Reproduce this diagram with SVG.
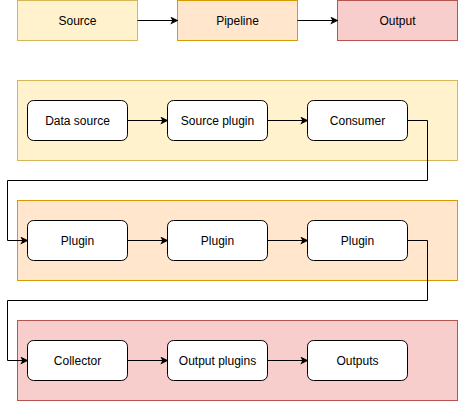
<svg xmlns="http://www.w3.org/2000/svg" width="458" height="401" viewBox="0 0 458 401">
<style>
.y{fill:#fff2cc;stroke:#d6b656}
.o{fill:#ffe6cc;stroke:#d79b00}
.r{fill:#f8cecc;stroke:#b85450}
.n{fill:#ffffff;stroke:#000000}
text{font-family:"Liberation Sans",Arial,sans-serif;font-size:12px;fill:#000000;text-anchor:middle;dominant-baseline:central}
.e{fill:none;stroke:#000000;stroke-width:1}
</style>
<defs>
<marker id="a" viewBox="0 0 10 10" refX="9" refY="5" markerWidth="8" markerHeight="8" markerUnits="userSpaceOnUse" orient="auto">
<path d="M0,0 L10,5 L0,10 L2.5,5 Z" fill="#000"/>
</marker>
</defs>
<g id="legend-source"><rect class="y" x="17.5" y="0.5" width="120" height="40"/><text x="77.5" y="20.5">Source</text></g>
<g id="legend-pipeline"><rect class="o" x="177.5" y="0.5" width="120" height="40"/><text x="237.5" y="20.5">Pipeline</text></g>
<g id="legend-output"><rect class="r" x="337.5" y="0.5" width="120" height="40"/><text x="397.5" y="20.5">Output</text></g>
<g id="source-group"><rect class="y" x="17.5" y="80.5" width="440" height="80"/></g>
<g id="pipeline-group"><rect class="o" x="17.5" y="200.5" width="440" height="80"/></g>
<g id="output-group"><rect class="r" x="17.5" y="320.5" width="440" height="80"/></g>
<g id="data-source"><rect class="n" x="27.5" y="100.5" width="100" height="40" rx="6"/><text x="77.5" y="120.5">Data source</text></g>
<g id="source-plugin"><rect class="n" x="167.5" y="100.5" width="100" height="40" rx="6"/><text x="217.5" y="120.5">Source plugin</text></g>
<g id="consumer"><rect class="n" x="307.5" y="100.5" width="100" height="40" rx="6"/><text x="357.5" y="120.5">Consumer</text></g>
<g id="plugin1"><rect class="n" x="27.5" y="220.5" width="100" height="40" rx="6"/><text x="77.5" y="240.5">Plugin</text></g>
<g id="plugin2"><rect class="n" x="167.5" y="220.5" width="100" height="40" rx="6"/><text x="217.5" y="240.5">Plugin</text></g>
<g id="plugin3"><rect class="n" x="307.5" y="220.5" width="100" height="40" rx="6"/><text x="357.5" y="240.5">Plugin</text></g>
<g id="collector"><rect class="n" x="27.5" y="340.5" width="100" height="40" rx="6"/><text x="77.5" y="360.5">Collector</text></g>
<g id="output-plugins"><rect class="n" x="167.5" y="340.5" width="100" height="40" rx="6"/><text x="217.5" y="360.5">Output plugins</text></g>
<g id="outputs"><rect class="n" x="307.5" y="340.5" width="100" height="40" rx="6"/><text x="357.5" y="360.5">Outputs</text></g>
<g id="connectors">
<path class="e" d="M137.5,20.5 H177.5" marker-end="url(#a)"/>
<path class="e" d="M297.5,20.5 H337.5" marker-end="url(#a)"/>
<path class="e" d="M127.5,120.5 H167.5" marker-end="url(#a)"/>
<path class="e" d="M267.5,120.5 H307.5" marker-end="url(#a)"/>
<path class="e" d="M407.5,120.5 H427.5 V180.5 H7.5 V240.5 H27.5" marker-end="url(#a)"/>
<path class="e" d="M127.5,240.5 H167.5" marker-end="url(#a)"/>
<path class="e" d="M267.5,240.5 H307.5" marker-end="url(#a)"/>
<path class="e" d="M407.5,240.5 H427.5 V300.5 H7.5 V360.5 H27.5" marker-end="url(#a)"/>
<path class="e" d="M127.5,360.5 H167.5" marker-end="url(#a)"/>
<path class="e" d="M267.5,360.5 H307.5" marker-end="url(#a)"/>
</g>
</svg>
